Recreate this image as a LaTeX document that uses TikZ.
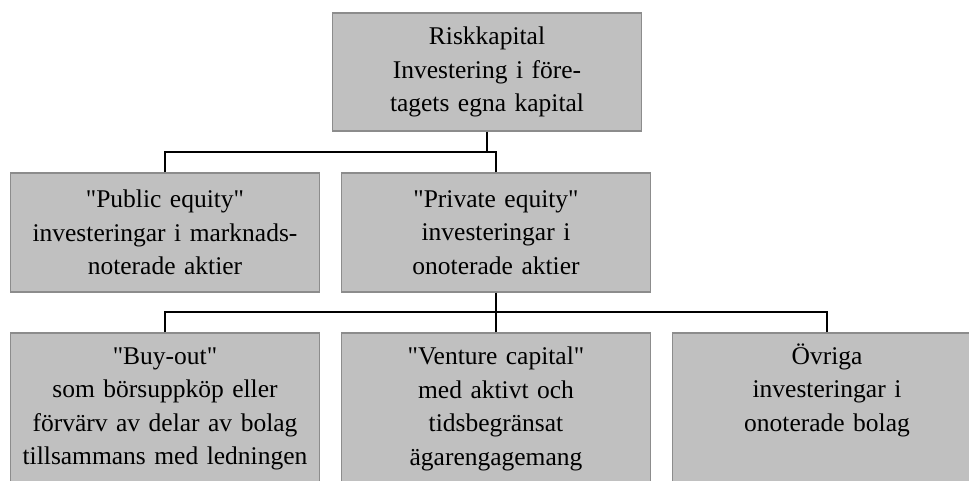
\documentclass[tikz,border=0pt]{standalone}
\usepackage{fontspec}
\setmainfont{Liberation Serif}[Ligatures=TeXOff]
\definecolor{boxfill}{HTML}{C0C0C0}
\definecolor{boxline}{HTML}{8C8C8C}
\begin{document}
\begin{tikzpicture}[x=1pt,y=-1pt,
  orgbox/.style={draw=boxline,fill=boxfill,line width=1.4pt,rectangle,
    minimum width=309pt,text width=305pt,align=center,inner sep=0pt,
    font=\fontsize{25.5}{33.5}\selectfont},
  link/.style={draw=black,line width=1.5pt}]
\clip (0,0) rectangle (969,480);
\fill[white] (0,0) rectangle (969,480);
\node[orgbox,minimum height=118pt] (top) at (487,72) {Riskkapital\\Investering i före-\\tagets egna kapital};
\node[orgbox,minimum height=119pt] (pub) at (165,232.5) {"Public equity"\\investeringar i marknads-\\noterade aktier};
\node[orgbox,minimum height=119pt] (priv) at (496,232.5) {"Private equity"\\investeringar i\\onoterade aktier};
\node[orgbox,minimum height=152pt] (bo) at (165,409) {"Buy-out"\\som börsuppköp eller\\förvärv av delar av bolag\\tillsammans med ledningen};
\node[orgbox,minimum height=152pt] (vc) at (496,409) {"Venture capital"\\med aktivt och\\tidsbegränsat\\ägarengagemang};
\node[orgbox,minimum height=152pt] (ov) at (827,409) {Övriga\\investeringar i\\onoterade bolag\\\strut};
\coordinate (h1) at (0,152);
\coordinate (h2) at (0,312);
\coordinate (j1) at (top.south |- h1);
\coordinate (j2) at (priv.south |- h2);
\draw[link] (top.south) -- (j1);
\draw[link] (pub.north) |- (j1);
\draw[link] (priv.north) |- (j1);
\draw[link] (priv.south) -- (j2);
\draw[link] (bo.north) |- (j2);
\draw[link] (vc.north) -- (j2);
\draw[link] (ov.north) |- (j2);
\end{tikzpicture}
\end{document}
